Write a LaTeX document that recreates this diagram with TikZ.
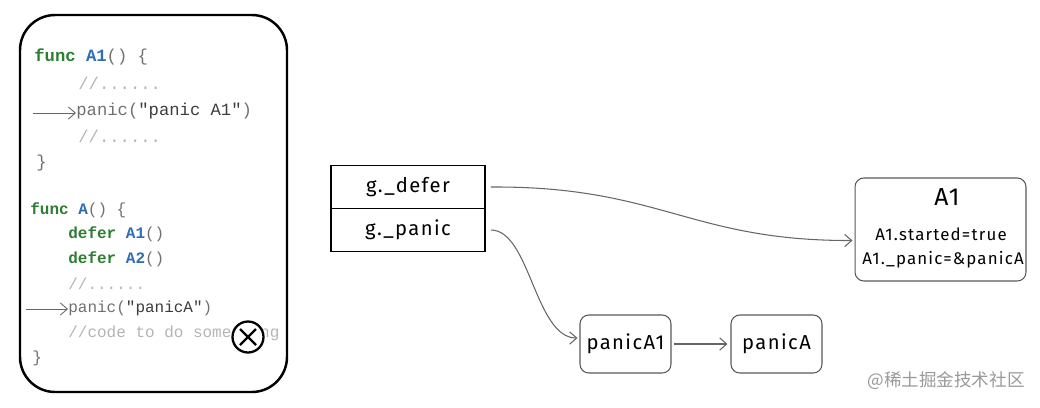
\documentclass[tikz,border=0pt]{standalone}
\usepackage{fontspec}
\setmonofont{Liberation Mono}
\setsansfont{Fira Sans}[LetterSpace=7]
\newfontfamily\cjkfont{Noto Sans CJK SC}
\usetikzlibrary{arrows.meta}
\definecolor{kwgreen}{HTML}{2E7D32}
\definecolor{fnblue}{HTML}{2F6DB5}
\definecolor{punct}{HTML}{707070}
\definecolor{cmt}{HTML}{B4B4B4}
\definecolor{strdark}{HTML}{3C3C3C}
\newcommand{\kw}[1]{\textcolor{kwgreen}{\textbf{#1}}}
\newcommand{\fn}[1]{\textcolor{fnblue}{\textbf{#1}}}
\newcommand{\pu}[1]{\textcolor{punct}{#1}}
\newcommand{\cm}[1]{\textcolor{cmt}{#1}}
\newcommand{\st}[1]{\textcolor{strdark}{#1}}
\begin{document}
\begin{tikzpicture}[x=0.02cm,y=-0.02cm]
            \tikzstyle{every node}+=[inner sep=0pt]
            \tikzstyle{code}=[anchor=base west, font=\ttfamily\fontsize{9.8}{11}\selectfont]
            \tikzstyle{codeb}=[anchor=base west, font=\ttfamily\fontsize{9.1}{11}\selectfont]
            \tikzstyle{hand}=[font=\sffamily\fontsize{11.5}{13}\selectfont]
            \tikzstyle{obj}=[draw=black!65, rounded corners=5pt, line width=0.6pt]
            \tikzstyle{link}=[draw=black!60, line width=0.6pt, -{Straight Barb[length=4pt,width=7pt]}]
            \useasboundingbox (0,0) rectangle (1040,407);
            % the code frame
            \draw [black, line width=1.4pt, rounded corners=20pt] (20,15) rectangle (287,392);
            \node (l1) [code] at (34,61) {\kw{func} \fn{A1}\pu{()  \{}};
            \node (l2) [code] at (78,89) {\cm{//......}};
            \node (l3) [code] at (76,115) {\pu{panic(}\st{"panic A1"}\pu{)}};
            \node (l4) [code] at (78,142) {\cm{//......}};
            \node (l5) [code] at (36,167) {\pu{\}}};
            \node (l6) [codeb] at (30,214) {\kw{func} \fn{A}\pu{()  \{}};
            \node (l7) [codeb] at (68,238) {\kw{defer} \fn{A1}\pu{()}};
            \node (l8) [codeb] at (68,263) {\kw{defer} \fn{A2}\pu{()}};
            \node (l9) [codeb] at (68,289) {\cm{//......}};
            \node (l10) [codeb] at (68,312) {\pu{panic(}\st{"panicA"}\pu{)}};
            \node (l11) [codeb] at (68,337) {\cm{//code to do something}};
            \node (l12) [codeb] at (32,362) {\pu{\}}};
            \coordinate (c1) at (33,113);
            \coordinate (c2) at (26,309);
            \draw [link, line width=0.5pt] (c1) -- (l3.west |- c1);
            \draw [link, line width=0.5pt] (c2) -- (l10.west |- c2);
            % the stop mark
            \node (stop) [circle, draw, line width=1.3pt, fill=white, minimum size=0.62cm] at (248,337) {};
            \draw [line width=1.3pt] (stop.center) ++(-8,-8) -- ++(16,16);
            \draw [line width=1.3pt] (stop.center) ++(-8,8) -- ++(16,-16);
            % the g fields
            \node (gdefer) [draw, line width=1pt, hand, minimum width=3.08cm, minimum height=0.86cm] at (408,187) {g.\_defer};
            \node (gpanic) [draw, line width=1pt, hand, minimum width=3.08cm, minimum height=0.86cm] at (408,230) {g.\_panic};
            % the deferred record
            \node (a1box) [obj, minimum width=3.42cm, minimum height=2.06cm] at (940.5,229.5) {};
            \node (a1name) [hand, font=\sffamily\fontsize{14}{16}\selectfont] at (947,197) {A1};
            \node (a1start) [hand, font=\sffamily\fontsize{9.6}{11}\selectfont] at (941,234) {A1.started=true};
            \node (a1panic) [hand, font=\sffamily\fontsize{9.6}{11}\selectfont] at (943,260) {A1.\_panic=\&panicA};
            % the panic chain
            \node (pa1) [obj, hand, minimum width=1.82cm, minimum height=1.16cm] at (625.5,344) {panicA1};
            \node (pa) [obj, hand, minimum width=1.82cm, minimum height=1.16cm] at (776.5,344) {panicA};
            \draw [link] ([xshift=0.1cm]gdefer.east) .. controls (660,186) and (690,241) .. ([yshift=-0.22cm, xshift=-0.04cm]a1box.west);
            \draw [link] ([xshift=0.1cm]gpanic.east) .. controls (530,230) and (535,338) .. ([xshift=-0.04cm, yshift=0.12cm]pa1.west);
            \draw [link] ([xshift=0.04cm]pa1.east) -- ([xshift=-0.06cm]pa.west);
            \node (mark) [font=\cjkfont\fontsize{10}{12}\selectfont, text=black!40] at (946,381) {@稀土掘金技术社区};
        \end{tikzpicture}
\end{document}
